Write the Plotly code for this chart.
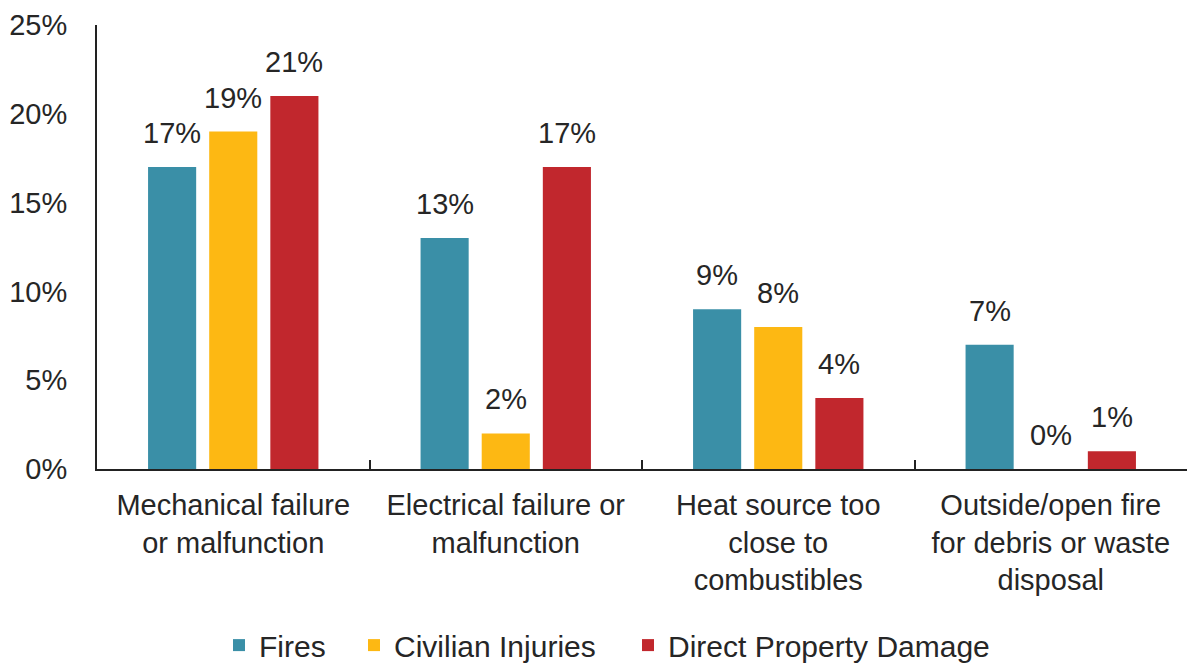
import plotly.graph_objects as go

categories = ["Mechanical failure<br>or malfunction",
              "Electrical failure or<br>malfunction",
              "Heat source too<br>close to<br>combustibles",
              "Outside/open fire<br>for debris or waste<br>disposal"]
series_names = ["Fires", "Civilian Injuries", "Direct Property Damage"]
fires = [17, 13, 9, 7]
injuries = [19, 2, 8, 0]
damage = [21, 17, 4, 1]
colors = ["#3A8FA7", "#FDB813", "#C1272D"]

W, H = 1187, 663
ml, mr, mt, mb = 97, 0, 25, 194
bargap = 0.327
bargroupgap = 0.213
font = "Liberation Sans, Arial, sans-serif"
txt_color = "#262626"
legend_left_px = [219, 354, 628]

fig = go.Figure()
all_series = [fires, injuries, damage]
legend_ids = ["legend", "legend2", "legend3"]
for name, vals, col, lid in zip(series_names, all_series, colors, legend_ids):
    fig.add_trace(go.Bar(x=categories, y=vals, name=name, legend=lid,
                         marker=dict(color=col, line=dict(width=0))))

cat_px = (W - ml - mr) / len(categories)
slot = cat_px * (1 - bargap) / len(all_series)
annotations = []
for i, vals in enumerate(all_series):
    shift = (i - (len(all_series) - 1) / 2) * slot
    for c, v in zip(categories, vals):
        annotations.append(dict(x=c, y=v, xref="x", yref="y", text=f"{v}%",
                                showarrow=False, xshift=shift, yshift=16,
                                yanchor="bottom",
                                font=dict(size=29, color=txt_color, family=font)))

legend_common = dict(orientation="h", xref="container", yref="container",
                     xanchor="left", y=0.027, yanchor="middle",
                     bgcolor="rgba(0,0,0,0)", borderwidth=0,
                     font=dict(size=30, color=txt_color, family=font))
layout_legends = {}
for lid, lx in zip(legend_ids, legend_left_px):
    layout_legends[lid] = dict(legend_common, x=lx / W)

fig.update_layout(
    width=W, height=H,
    margin=dict(l=ml, r=mr, t=mt, b=mb),
    barmode="group", bargap=bargap, bargroupgap=bargroupgap,
    plot_bgcolor="white", paper_bgcolor="white",
    font=dict(family=font, size=29, color=txt_color),
    annotations=annotations,
    showlegend=True,
    **layout_legends,
)
fig.update_xaxes(showline=True, linecolor="#222", linewidth=2,
                 ticks="inside", tickson="boundaries", ticklen=9,
                 tickcolor="#222", tickwidth=2, showgrid=False,
                 ticklabelstandoff=9,
                 tickfont=dict(size=29, color=txt_color, family=font))
fig.update_yaxes(range=[0, 25], dtick=5, ticksuffix="%", showline=True,
                 linecolor="#222", linewidth=2, showgrid=False, zeroline=False,
                 ticks="", ticklabelstandoff=22,
                 tickfont=dict(size=29, color=txt_color, family=font))

fig.write_html("out.html")
